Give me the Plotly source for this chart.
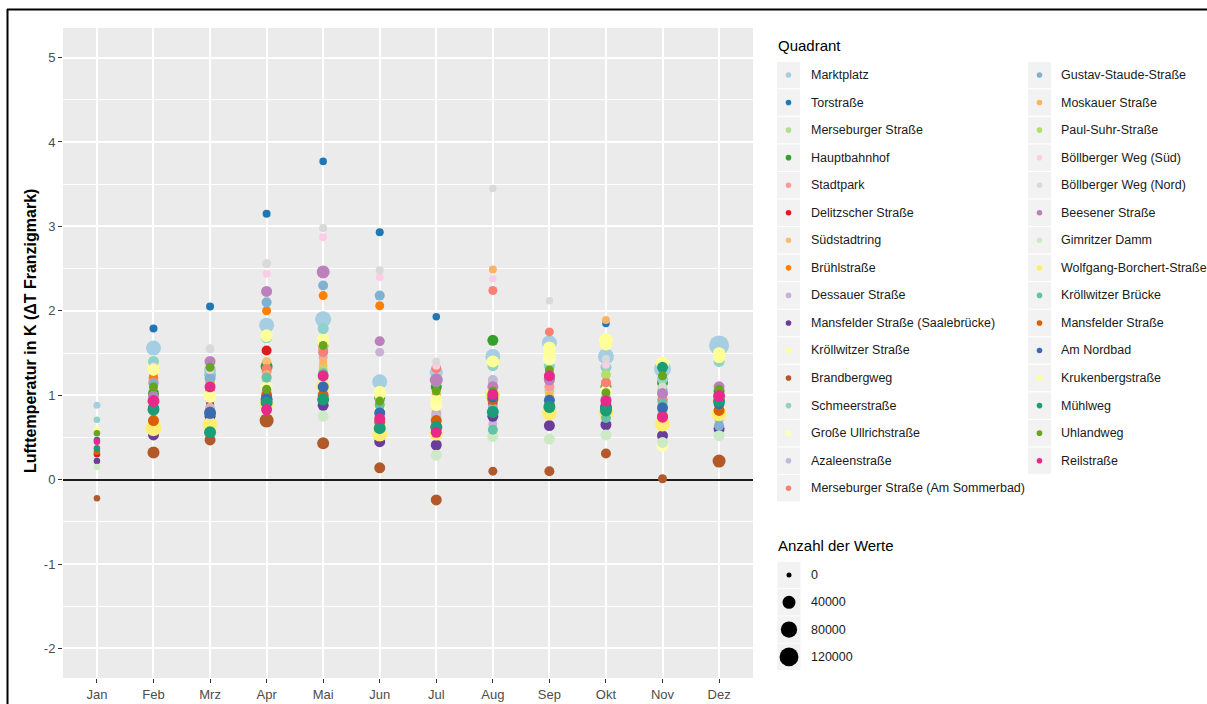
import math
import plotly.graph_objects as go

W, H = 1207, 704
FONT = "Liberation Sans, Arial, sans-serif"

months = ["Jan", "Feb", "Mrz", "Apr", "Mai", "Jun", "Jul", "Aug", "Sep", "Okt", "Nov", "Dez"]
y_ticks = [-2, -1, 0, 1, 2, 3, 4, 5]
y_tick_labels = ["-2", "-1", "0", "1", "2", "3", "4", "5"]
y_minor_ticks = [-1.5, -0.5, 0.5, 1.5, 2.5, 3.5, 4.5]

stations = [
    "Marktplatz", "Torstraße", "Merseburger Straße", "Hauptbahnhof", "Stadtpark",
    "Delitzscher Straße", "Südstadtring", "Brühlstraße", "Dessauer Straße",
    "Mansfelder Straße (Saalebrücke)", "Kröllwitzer Straße", "Brandbergweg",
    "Schmeerstraße", "Große Ullrichstraße", "Azaleenstraße",
    "Merseburger Straße (Am Sommerbad)", "Gustav-Staude-Straße", "Moskauer Straße",
    "Paul-Suhr-Straße", "Böllberger Weg (Süd)", "Böllberger Weg (Nord)",
    "Beesener Straße", "Gimritzer Damm", "Wolfgang-Borchert-Straße",
    "Kröllwitzer Brücke", "Mansfelder Straße", "Am Nordbad", "Krukenbergstraße",
    "Mühlweg", "Uhlandweg", "Reilstraße",
]

colors = [
    "#A6CEE3", "#1F78B4", "#B2DF8A", "#33A02C", "#FB9A99", "#E31A1C", "#FDBF6F",
    "#FF7F00", "#CAB2D6", "#6A3D9A", "#FFFF99", "#B15928", "#8DD3C7", "#FFFFB3",
    "#BEBADA", "#FB8072", "#80B1D3", "#FDB462", "#B3DE69", "#FCCDE5", "#D9D9D9",
    "#BC80BD", "#CCEBC5", "#FFED6F", "#66C2A5", "#D95F02", "#386CB0", "#FFFF99",
    "#1B9E77", "#66A61E", "#E7298A",
]

# Monthly mean temperature difference to Franzigmark (K); None = no data
dt_marktplatz = [0.88, 1.56, 1.30, 1.83, 1.90, 1.16, 1.27, 1.46, 1.62, 1.46, 1.31, 1.59]
dt_torstrasse = [None, 1.79, 2.05, 3.15, 3.77, 2.93, 1.93, None, None, 1.85, None, None]
dt_merseburger = [None, 1.05, 0.95, 1.22, 1.20, 0.90, 0.85, 0.90, 1.05, 1.24, 0.95, 0.90]
dt_hauptbahnhof = [None, 1.02, 1.24, 1.34, 1.60, 0.97, 1.10, 1.65, 1.20, 1.10, 1.15, 1.05]
dt_stadtpark = [None, 1.20, 1.05, 1.28, 1.55, 0.75, 0.78, 0.95, 1.10, 1.14, 0.93, 0.95]
dt_delitzscher = [0.30, 0.90, 0.89, 1.53, 1.25, 0.70, 0.60, 0.90, 0.90, 0.90, 0.80, 0.90]
dt_suedstadtring = [None, 1.25, 1.00, 1.40, 1.35, 0.95, 0.95, 1.05, 1.00, 1.00, 0.95, 0.88]
dt_bruehl = [None, 1.22, 1.15, 2.00, 2.18, 2.06, 1.00, 1.15, 0.95, 0.95, 0.85, 0.85]
dt_dessauer = [None, 0.80, 0.79, 1.15, 1.45, 1.51, 0.65, 0.66, 0.80, 0.75, 0.70, 0.70]
dt_mansfelder_saale = [0.22, 0.53, 0.75, 0.95, 0.88, 0.45, 0.41, 0.75, 0.64, 0.65, 0.52, 0.60]
dt_kroellwitzer_str = [None, 1.36, 1.02, 1.71, 1.66, 1.04, 0.91, 1.39, 1.56, 1.65, 1.38, 1.49]
dt_brandbergweg = [-0.22, 0.32, 0.47, 0.70, 0.43, 0.14, -0.24, 0.10, 0.10, 0.31, 0.01, 0.22]
dt_schmeer = [0.71, 1.40, 1.25, 1.68, 1.79, 1.00, 1.20, 1.35, 1.35, 1.33, 1.19, 1.40]
dt_grosse_ullrich = [None, 0.95, 0.98, 1.10, 1.12, 0.85, 0.88, 1.00, 1.43, 1.05, 0.40, 0.85]
dt_azaleen = [None, 0.85, 0.85, 1.05, 1.05, 0.80, 0.75, 1.18, 0.95, 0.85, 0.80, 0.75]
dt_sommerbad = [None, 1.15, 1.05, 1.31, 1.51, 1.00, 1.32, 2.24, 1.75, 1.15, 0.95, 0.95]
dt_gustav_staude = [None, 1.14, 1.20, 2.10, 2.30, 2.18, 1.15, 0.85, 0.85, 0.85, 1.06, 0.64]
dt_moskauer = [None, 1.10, 1.10, 1.25, 1.40, 0.90, 1.00, 2.49, 1.00, 1.89, 0.90, 0.80]
dt_paul_suhr = [None, 1.00, 1.12, 1.20, 1.30, 0.95, 0.95, 0.95, 1.20, 1.25, 1.10, 1.00]
dt_boellberg_sued = [None, 1.34, 1.30, 2.44, 2.87, 2.40, 1.35, 2.38, 1.51, 1.36, 1.00, 0.95]
dt_boellberg_nord = [None, 1.32, 1.55, 2.56, 2.98, 2.48, 1.40, 3.45, 2.12, 1.43, 1.10, 1.05]
dt_beesener = [None, 0.99, 1.40, 2.23, 2.46, 1.64, 1.18, 1.10, 1.18, 0.95, 1.02, 1.10]
dt_gimritzer = [0.15, 0.60, 0.65, 0.85, 0.75, 0.55, 0.29, 0.51, 0.48, 0.53, 0.44, 0.52]
dt_wolfgang_borchert = [None, 0.61, 0.65, 0.89, 1.10, 0.54, 0.54, 1.00, 0.79, 0.79, 0.66, 0.78]
dt_kroellwitzer_bruecke = [None, 0.95, 1.00, 1.21, 1.26, 0.88, 0.70, 0.59, 0.85, 0.73, 0.90, 0.95]
dt_mansfelder = [0.33, 0.70, 0.80, 1.00, 1.00, 0.68, 0.70, 0.95, 0.88, 0.88, 0.75, 0.82]
dt_am_nordbad = [0.47, 0.85, 0.79, 0.95, 1.10, 0.79, 0.63, 0.98, 0.94, 0.85, 0.85, 0.90]
dt_krukenberg = [0.59, 1.30, 1.00, 1.70, 1.62, 1.02, 0.95, 1.40, 1.50, 1.60, 1.38, 1.45]
dt_muehlweg = [0.37, 0.83, 0.56, 0.91, 0.95, 0.61, 0.62, 0.80, 0.86, 0.82, 1.33, 0.93]
dt_uhlandweg = [0.55, 1.10, 1.33, 1.07, 1.59, 0.93, 1.05, 1.05, 1.30, 1.03, 1.23, 1.07]
dt_reilstrasse = [0.45, 0.93, 1.10, 0.83, 1.23, 0.72, 0.56, 1.01, 1.23, 0.93, 0.74, 0.99]

# Number of readings behind each monthly mean
n_marktplatz = [2500, 62500, 30600, 62500, 75600, 62500, 40000, 62500, 62500, 75600, 90000, 140600]
n_torstrasse = [0, 5600, 5600, 5600, 4000, 5600, 4000, 0, 0, 4000, 0, 0]
n_merseburger = [0, 15600, 15600, 15600, 15600, 15600, 15600, 15600, 15600, 15600, 15600, 15600]
n_hauptbahnhof = [0, 22500, 22500, 30600, 22500, 22500, 22500, 22500, 22500, 22500, 22500, 22500]
n_stadtpark = [0, 15600, 15600, 15600, 15600, 15600, 15600, 15600, 15600, 15600, 15600, 15600]
n_delitzscher = [1500, 10000, 5600, 15600, 10000, 10000, 10000, 10000, 10000, 10000, 10000, 10000]
n_suedstadtring = [0, 10000, 10000, 10000, 10000, 10000, 10000, 10000, 10000, 10000, 10000, 10000]
n_bruehl = [0, 10000, 10000, 10000, 10000, 10000, 10000, 10000, 10000, 10000, 10000, 10000]
n_dessauer = [0, 10000, 10000, 10000, 10000, 10000, 10000, 10000, 10000, 10000, 10000, 10000]
n_mansfelder_saale = [1500, 22500, 22500, 22500, 22500, 22500, 22500, 22500, 22500, 22500, 22500, 22500]
n_kroellwitzer_str = [0, 30600, 30600, 30600, 30600, 30600, 30600, 40000, 40000, 50600, 40000, 40000]
n_brandbergweg = [1500, 30600, 22500, 50600, 30600, 22500, 22500, 10000, 15600, 15600, 10000, 40000]
n_schmeer = [1500, 22500, 22500, 22500, 22500, 22500, 22500, 22500, 22500, 22500, 22500, 22500]
n_grosse_ullrich = [0, 30600, 30600, 30600, 30600, 30600, 30600, 40000, 40000, 30600, 30600, 30600]
n_azaleen = [0, 15600, 15600, 15600, 15600, 15600, 15600, 15600, 15600, 15600, 15600, 15600]
n_sommerbad = [0, 15600, 15600, 15600, 15600, 15600, 15600, 10000, 10000, 15600, 15600, 15600]
n_gustav_staude = [0, 15600, 22500, 15600, 15600, 15600, 15600, 15600, 15600, 15600, 15600, 15600]
n_moskauer = [0, 5600, 5600, 5600, 5600, 5600, 5600, 5600, 5600, 5600, 5600, 5600]
n_paul_suhr = [0, 10000, 10000, 10000, 10000, 10000, 10000, 10000, 10000, 10000, 10000, 10000]
n_boellberg_sued = [0, 5600, 5600, 5600, 5600, 5600, 5600, 4000, 5600, 5600, 5600, 5600]
n_boellberg_nord = [0, 5600, 10000, 10000, 5600, 5600, 5600, 4000, 4000, 5600, 5600, 5600]
n_beesener = [0, 22500, 22500, 22500, 40000, 15600, 40000, 22500, 22500, 22500, 22500, 22500]
n_gimritzer = [1500, 22500, 22500, 22500, 22500, 22500, 22500, 22500, 22500, 22500, 22500, 22500]
n_wolfgang_borchert = [0, 75600, 62500, 50600, 50600, 62500, 40000, 62500, 62500, 62500, 62500, 62500]
n_kroellwitzer_bruecke = [0, 15600, 15600, 15600, 15600, 15600, 15600, 15600, 15600, 15600, 15600, 15600]
n_mansfelder = [1500, 22500, 22500, 22500, 22500, 22500, 22500, 22500, 22500, 22500, 22500, 22500]
n_am_nordbad = [1500, 22500, 30600, 30600, 22500, 22500, 22500, 22500, 22500, 30600, 22500, 22500]
n_krukenberg = [1500, 30600, 30600, 30600, 30600, 30600, 30600, 30600, 30600, 30600, 30600, 30600]
n_muehlweg = [1500, 30600, 30600, 30600, 30600, 30600, 30600, 30600, 30600, 30600, 22500, 30600]
n_uhlandweg = [1500, 10000, 10000, 10000, 10000, 10000, 10000, 10000, 10000, 10000, 10000, 10000]
n_reilstrasse = [1500, 30600, 22500, 22500, 22500, 22500, 22500, 22500, 22500, 22500, 22500, 30600]

delta_t = [
    dt_marktplatz, dt_torstrasse, dt_merseburger, dt_hauptbahnhof, dt_stadtpark,
    dt_delitzscher, dt_suedstadtring, dt_bruehl, dt_dessauer, dt_mansfelder_saale,
    dt_kroellwitzer_str, dt_brandbergweg, dt_schmeer, dt_grosse_ullrich, dt_azaleen,
    dt_sommerbad, dt_gustav_staude, dt_moskauer, dt_paul_suhr, dt_boellberg_sued,
    dt_boellberg_nord, dt_beesener, dt_gimritzer, dt_wolfgang_borchert,
    dt_kroellwitzer_bruecke, dt_mansfelder, dt_am_nordbad, dt_krukenberg,
    dt_muehlweg, dt_uhlandweg, dt_reilstrasse,
]
n_values = [
    n_marktplatz, n_torstrasse, n_merseburger, n_hauptbahnhof, n_stadtpark,
    n_delitzscher, n_suedstadtring, n_bruehl, n_dessauer, n_mansfelder_saale,
    n_kroellwitzer_str, n_brandbergweg, n_schmeer, n_grosse_ullrich, n_azaleen,
    n_sommerbad, n_gustav_staude, n_moskauer, n_paul_suhr, n_boellberg_sued,
    n_boellberg_nord, n_beesener, n_gimritzer, n_wolfgang_borchert,
    n_kroellwitzer_bruecke, n_mansfelder, n_am_nordbad, n_krukenberg,
    n_muehlweg, n_uhlandweg, n_reilstrasse,
]

size_breaks = [0, 40000, 80000, 120000]


def diameter(n):
    # area-style size scale: diameter grows with sqrt(count)
    return 5 + 0.04 * math.sqrt(n)


# pixel -> paper helpers (figure has zero margins)
def px(x):
    return x / W


def py(y):
    return 1 - y / H


PANEL_L, PANEL_R, PANEL_T, PANEL_B = 63, 753, 28, 678

fig = go.Figure()
xpos = list(range(1, 13))
for name, col, vals, counts in zip(stations, colors, delta_t, n_values):
    fig.add_trace(go.Scatter(
        x=xpos, y=vals, mode="markers", name=name, showlegend=False,
        marker=dict(color=col, size=[diameter(c) for c in counts], line=dict(width=0), opacity=1),
        hovertemplate="%{y:.2f} K<extra>" + name + "</extra>",
    ))

shapes = []
annotations = []

# outer frame (top and left edges)
shapes.append(dict(type="line", xref="paper", yref="paper", x0=px(7), x1=1, y0=py(9.5), y1=py(9.5),
                   line=dict(color="black", width=2)))
shapes.append(dict(type="line", xref="paper", yref="paper", x0=px(7.5), x1=px(7.5), y0=py(9), y1=0,
                   line=dict(color="black", width=2)))

# y axis title
annotations.append(dict(
    text="<b>Lufttemperatur in K (ΔT Franzigmark)</b>", x=px(30), y=py(331), xref="paper", yref="paper",
    textangle=-90, showarrow=False, font=dict(family=FONT, size=16, color="black"),
    xanchor="center", yanchor="middle",
))

# station legend (two columns)
annotations.append(dict(text="Quadrant", x=px(776), y=py(45), xref="paper", yref="paper", showarrow=False,
                        xanchor="left", yanchor="middle", font=dict(family=FONT, size=15, color="black")))
ROW0, ROWSTEP = 75, 27.55
for i, (name, col) in enumerate(zip(stations, colors)):
    c, r = (0, i) if i < 16 else (1, i - 16)
    kx = 788.5 if c == 0 else 1039.5
    tx = 809 if c == 0 else 1059
    cy = ROW0 + r * ROWSTEP
    shapes.append(dict(type="rect", xref="paper", yref="paper", layer="below",
                       x0=px(kx - 11.5), x1=px(kx + 11.5), y0=py(cy - 13.2), y1=py(cy + 13.2),
                       fillcolor="#F2F2F2", line=dict(width=0)))
    shapes.append(dict(type="circle", xref="paper", yref="paper", xsizemode="pixel", ysizemode="pixel",
                       xanchor=px(kx), yanchor=py(cy), x0=-2.8, x1=2.8, y0=-2.8, y1=2.8,
                       fillcolor=col, line=dict(width=0)))
    annotations.append(dict(text=name, x=px(tx), y=py(cy), xref="paper", yref="paper", showarrow=False,
                            xanchor="left", yanchor="middle", font=dict(family=FONT, size=12.5, color="#1A1A1A")))

# size legend
annotations.append(dict(text="Anzahl der Werte", x=px(776), y=py(545), xref="paper", yref="paper",
                        showarrow=False, xanchor="left", yanchor="middle",
                        font=dict(family=FONT, size=15, color="black")))
for j, b in enumerate(size_breaks):
    cy = 575 + j * 27.3
    kx = 789
    r = diameter(b) / 2
    shapes.append(dict(type="rect", xref="paper", yref="paper", layer="below",
                       x0=px(kx - 11.5), x1=px(kx + 11.5), y0=py(cy - 13.2), y1=py(cy + 13.2),
                       fillcolor="#F2F2F2", line=dict(width=0)))
    shapes.append(dict(type="circle", xref="paper", yref="paper", xsizemode="pixel", ysizemode="pixel",
                       xanchor=px(kx), yanchor=py(cy), x0=-r, x1=r, y0=-r, y1=r,
                       fillcolor="black", line=dict(width=0)))
    annotations.append(dict(text=str(b), x=px(809), y=py(cy), xref="paper", yref="paper", showarrow=False,
                            xanchor="left", yanchor="middle", font=dict(family=FONT, size=12.5, color="#1A1A1A")))

fig.update_layout(
    width=W, height=H, autosize=False,
    margin=dict(l=0, r=0, t=0, b=0, pad=0),
    paper_bgcolor="white", plot_bgcolor="#EBEBEB",
    font=dict(family=FONT, size=12.5, color="#4D4D4D"),
    showlegend=False,
    shapes=shapes, annotations=annotations,
    xaxis=dict(
        domain=[px(PANEL_L), px(PANEL_R)], range=[0.4, 12.6],
        tickmode="array", tickvals=xpos, ticktext=months,
        showgrid=True, gridcolor="white", gridwidth=1.6, zeroline=False,
        ticks="outside", ticklen=4, tickwidth=1.2, tickcolor="#333333",
        tickfont=dict(family=FONT, size=13, color="#4D4D4D"), showline=False,
    ),
    yaxis=dict(
        domain=[py(PANEL_B), py(PANEL_T)], range=[-2.35, 5.35],
        tickmode="array", tickvals=y_ticks, ticktext=y_tick_labels,
        showgrid=True, gridcolor="white", gridwidth=1.6,
        minor=dict(tickmode="array", tickvals=y_minor_ticks,
                   showgrid=True, gridcolor="white", gridwidth=0.8, ticks=""),
        zeroline=True, zerolinecolor="#1A1A1A", zerolinewidth=2,
        ticks="outside", ticklen=4, tickwidth=1.2, tickcolor="#333333",
        tickfont=dict(family=FONT, size=13, color="#4D4D4D"), showline=False,
    ),
)

fig.write_html("out.html")
